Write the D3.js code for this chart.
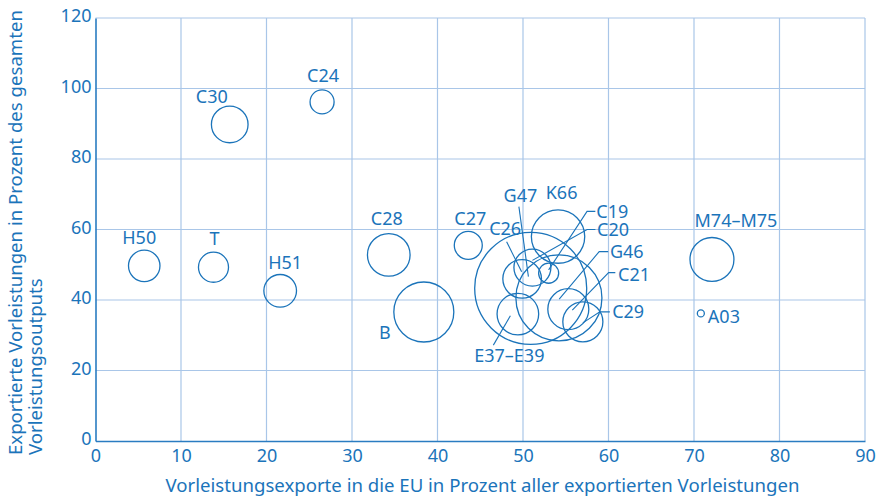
<!DOCTYPE html>
<html>
<head>
<meta charset="utf-8">
<script src="https://cdn.jsdelivr.net/npm/d3@7"></script>
<style>
  html, body { margin: 0; padding: 0; background: #ffffff; }
  svg { display: block; font-family: "Noto Sans", "DejaVu Sans", sans-serif; }
</style>
</head>
<body>
<svg id="chart" width="880" height="497"></svg>
<script>
// ---------- data ----------
const codes = ["H50", "T", "H51", "C30", "C24", "C28", "B", "C27", "C26", "G47",
               "K66", "C19", "C20", "G46", "C21", "C29", "E37–E39", "M74–M75", "A03"];
// Vorleistungsexporte in die EU in % aller exportierten Vorleistungen
const euShare = [5.7, 13.8, 21.6, 15.7, 26.5, 34.3, 38.4, 43.6, 49.9, 51.1,
                 54.1, 53.0, 50.9, 54.2, 55.3, 57.0, 49.4, 72.1, 70.8];
// Exportierte Vorleistungen in % des gesamten Vorleistungsoutputs
const exportShare = [49.7, 49.3, 42.6, 89.8, 96.2, 52.8, 36.6, 55.5, 46.0, 49.2,
                     58.0, 47.6, 43.3, 40.6, 37.4, 33.8, 36.0, 51.5, 36.2];
// relative bubble size (area)
const bubbleSize = [7.9, 7.2, 8.5, 10.7, 4.6, 14.5, 28.7, 6.25, 11.9, 10.9,
                    22.7, 3.2, 100, 59, 13.4, 12.8, 13.8, 15.4, 0.39];

const xTicks = [0, 10, 20, 30, 40, 50, 60, 70, 80, 90];
const yTicks = [0, 20, 40, 60, 80, 100, 120];
const xTitle = "Vorleistungsexporte in die EU in Prozent aller exportierten Vorleistungen";
const yTitleLines = ["Exportierte Vorleistungen in Prozent des gesamten", "Vorleistungsoutputs"];

// ---------- layout (label placement, pixels relative to bubble centre) ----------
const labelLayout = {
  "H50": { dx: -5, dy: -28 },
  "T": { dx: 1, dy: -29 },
  "H51": { dx: 5, dy: -28 },
  "C30": { dx: -18, dy: -28 },
  "C24": { dx: 1, dy: -26 },
  "C28": { dx: -2, dy: -36 },
  "B": { dx: -39, dy: 21 },
  "C27": { dx: 2, dy: -27 },
  "K66": { dx: 3.5, dy: -44.5 },
  "M74–M75": { dx: 24, dy: -39 },
  "A03": { dx: 7, dy: 3.5, anchor: "start" },
  "C26": { dx: -17, dy: -50.5, leader: [[-15.5, -37], [-0.5, -7]] },
  "G47": { dx: -12, dy: -72.5, leader: [[-13.5, -61], [-4, 9]] },
  "C19": { dx: 47.7, dy: -61.8, anchor: "start", leader: [[46.7, -61.8], [38.4, -61.8], [0, -3.3]] },
  "C20": { dx: 66.4, dy: -58.8, anchor: "start", leader: [[64.7, -58.8], [56.4, -58.8], [1.7, -28]] },
  "G46": { dx: 51, dy: -46.3, anchor: "start", leader: [[49.3, -46.3], [40.3, -46.3], [0.3, 1.3]] },
  "C21": { dx: 49.7, dy: -35, anchor: "start", leader: [[47, -36.5], [40.3, -36.5], [4, 1]] },
  "C29": { dx: 29.3, dy: -10, anchor: "start", leader: [[27, -10], [17, -10], [0, 1]] },
  "E37–E39": { dx: -8.5, dy: 41, leader: [[-24.5, 31], [-7.5, 1.7]] }
};

const BLUE = "#1b74ba";
const AXIS = "#2a7cc1";
const GRID = "#a9c6e8";
const LABEL_SIZE = 18;
const TITLE_SIZE = 18.6;

const svg = d3.select("#chart");
const plotLeft = 95.5, plotRight = 865, plotTop = 18, plotBottom = 441;

const x = d3.scaleLinear().domain([0, 90]).range([plotLeft, plotRight]);
const y = d3.scaleLinear().domain([0, 120]).range([plotBottom, plotTop]);
const r = d3.scaleSqrt().domain([0, 100]).range([0, 56]);

const data = codes.map((c, i) => ({ code: c, x: euShare[i], y: exportShare[i], s: bubbleSize[i] }));

// grid
const grid = svg.append("g");
grid.selectAll("line.v").data(xTicks.filter(d => d > 0)).join("line")
  .attr("x1", d => x(d)).attr("x2", d => x(d))
  .attr("y1", plotTop).attr("y2", plotBottom)
  .attr("stroke", GRID).attr("stroke-width", 1.2);
grid.selectAll("line.h").data(yTicks.filter(d => d > 0)).join("line")
  .attr("x1", plotLeft).attr("x2", plotRight)
  .attr("y1", d => y(d)).attr("y2", d => y(d))
  .attr("stroke", GRID).attr("stroke-width", 1.2);

// axes
const xAxis = svg.append("g").attr("transform", `translate(0,${plotBottom})`)
  .call(d3.axisBottom(x).tickValues(xTicks).tickSize(0).tickPadding(7).tickFormat(d3.format("d")));
const yAxis = svg.append("g").attr("transform", `translate(${plotLeft},0)`)
  .call(d3.axisLeft(y).tickValues(yTicks).tickSize(0).tickPadding(4).tickFormat(d3.format("d")));
[xAxis, yAxis].forEach(g => {
  g.select(".domain").attr("stroke", AXIS).attr("stroke-width", 1.6);
  g.selectAll("text").attr("fill", BLUE).attr("font-size", LABEL_SIZE)
    .attr("font-family", "'Noto Sans', sans-serif");
});
yAxis.selectAll("text").attr("dy", "0.22em");
xAxis.selectAll("text").attr("dy", "0.75em");

// bubbles
svg.append("g").selectAll("circle").data(data).join("circle")
  .attr("cx", d => x(d.x)).attr("cy", d => y(d.y)).attr("r", d => r(d.s))
  .attr("fill", "none").attr("stroke", BLUE).attr("stroke-width", 1.3);

// leaders + labels
const lineGen = d3.line();
const labelG = svg.append("g");
data.forEach(d => {
  const L = labelLayout[d.code];
  const cx = x(d.x), cy = y(d.y);
  if (L.leader) {
    labelG.append("path")
      .attr("d", lineGen(L.leader.map(p => [cx + p[0], cy + p[1]])))
      .attr("fill", "none").attr("stroke", BLUE).attr("stroke-width", 1.1);
  }
  labelG.append("text")
    .attr("x", cx + L.dx).attr("y", cy + L.dy).attr("dy", "0.36em")
    .attr("text-anchor", L.anchor || "middle")
    .attr("fill", BLUE).attr("font-size", LABEL_SIZE)
    .text(d.code);
});

// axis titles
svg.append("text")
  .attr("x", (165 + 800) / 2).attr("y", 485).attr("dy", "0.35em")
  .attr("text-anchor", "middle").attr("fill", BLUE).attr("font-size", TITLE_SIZE)
  .text(xTitle);

const yt = svg.append("text")
  .attr("transform", "translate(0,455) rotate(-90)")
  .attr("text-anchor", "start").attr("fill", BLUE).attr("font-size", TITLE_SIZE);
yt.selectAll("tspan").data(yTitleLines).join("tspan")
  .attr("x", 0).attr("y", (d, i) => 15 + i * 20).attr("dy", "0.35em")
  .text(d => d);
</script>
</body>
</html>
